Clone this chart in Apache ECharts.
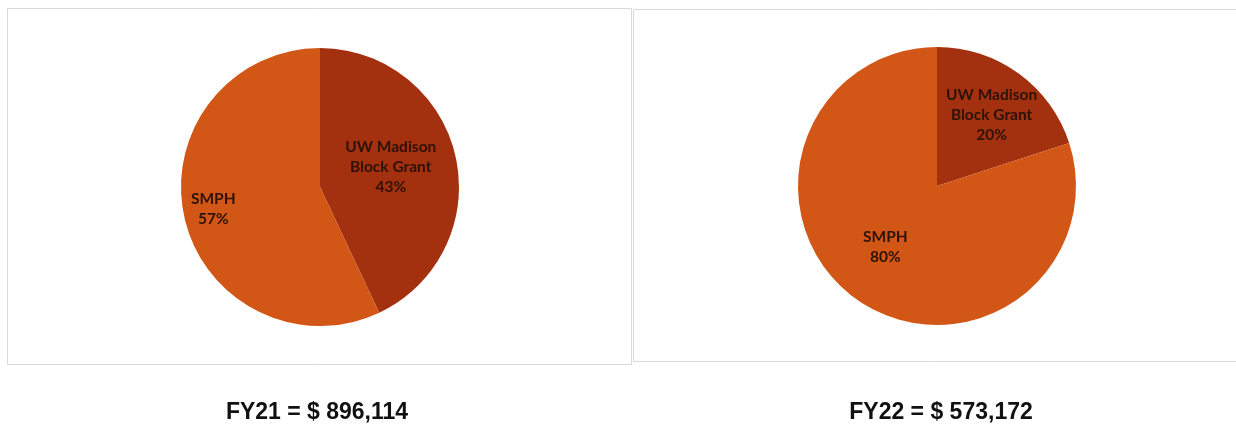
<!DOCTYPE html>
<html><head><meta charset="utf-8">
<script src="https://cdn.jsdelivr.net/npm/echarts@6/dist/echarts.min.js"></script>
<style>html,body{margin:0;padding:0;background:#fff}#c{width:1236px;height:425px}</style>
</head><body><div id="c"></div>
<script>
const categories = ['UW Madison\nBlock Grant', 'SMPH'];
const fy21Values = [43, 57];
const fy22Values = [20, 80];
const titles = ['FY21 = $ 896,114', 'FY22 = $ 573,172'];

const colors = ['#A3300F', '#D25616'];
const labelStyle = {fontFamily: 'Lato, "Open Sans", sans-serif', fontWeight: 'bold', fontSize: 15.5, lineHeight: 20, color: '#2e1207'};

function pieData(vals, offsets) {
  return categories.map((n, i) => ({name: n, value: vals[i], itemStyle: {color: colors[i]}, label: {offset: offsets[i]}}));
}

const titleStyle = {fontFamily: '"Liberation Sans", Arial, sans-serif', fontWeight: 'bold', fontSize: 23, color: '#111'};

const chart = echarts.init(document.getElementById('c'));
chart.setOption({
  animation: false,
  graphic: [
    {type: 'rect', shape: {x: 7.5, y: 8.5, width: 624, height: 356}, style: {fill: 'none', stroke: '#d9d9d9', lineWidth: 1}, z: -1},
    {type: 'rect', shape: {x: 633.5, y: 9.5, width: 610, height: 352}, style: {fill: 'none', stroke: '#d9d9d9', lineWidth: 1}, z: -1}
  ],
  title: [
    {text: titles[0], left: 312, top: 396, textAlign: 'center', textStyle: titleStyle},
    {text: titles[1], left: 936, top: 396, textAlign: 'center', textStyle: titleStyle}
  ],
  series: [
    {type: 'pie', center: [320, 187], radius: [0, 139], startAngle: 90, clockwise: true,
     label: Object.assign({position: 'inside', formatter: '{b}\n{c}%'}, labelStyle), labelLine: {show: false},
     emphasis: {disabled: true}, itemStyle: {borderWidth: 0},
     data: pieData(fy21Values, [[0, -4], [-36, 6]])},
    {type: 'pie', center: [937, 186], radius: [0, 139], startAngle: 90, clockwise: true,
     label: Object.assign({position: 'inside', formatter: '{b}\n{c}%'}, labelStyle), labelLine: {show: false},
     emphasis: {disabled: true}, itemStyle: {borderWidth: 0},
     data: pieData(fy22Values, [[12, -12], [-9, 2]])}
  ]
});
</script></body></html>
